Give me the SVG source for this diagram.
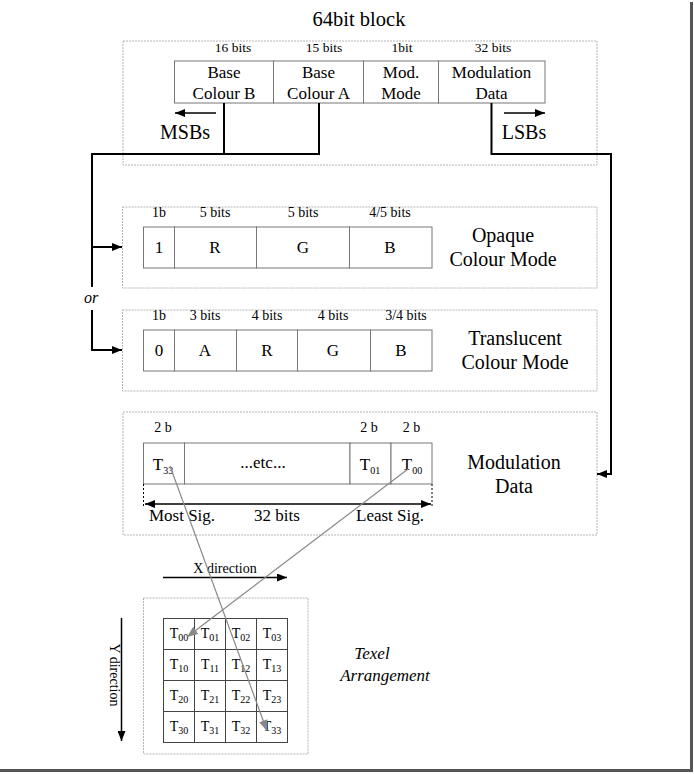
<svg xmlns="http://www.w3.org/2000/svg" width="694" height="774" viewBox="0 0 694 774">
<style>
text{font-family:"Liberation Serif","Times New Roman",serif;fill:#000;text-anchor:middle}
.grp{fill:none;stroke:#b4b4b4;stroke-width:1;stroke-dasharray:2 1}
.fld{fill:#fff;stroke:#777;stroke-width:1}
.conn{fill:none;stroke:#000;stroke-width:2}
.thin{fill:none;stroke:#000;stroke-width:1.5}
.gray{fill:none;stroke:#888;stroke-width:1.2}
.hdr{font-size:14px}
.big{font-size:20px}
.cell{font-size:17px}
.sub{font-size:10px}
.it{font-style:italic}
</style>
<defs>
<marker id="ah" viewBox="0 0 10 8" refX="10" refY="4" markerWidth="11" markerHeight="8" markerUnits="userSpaceOnUse" orient="auto-start-reverse">
<path d="M0,0 L10,4 L0,8 z" fill="#000"/>
</marker>
<marker id="ahg" viewBox="0 0 10 8" refX="10" refY="4" markerWidth="11" markerHeight="9" markerUnits="userSpaceOnUse" orient="auto">
<path d="M0,0 L10,4 L0,8 z" fill="#888"/>
</marker>
</defs>

<!-- page edge shadow -->
<g id="page">
<line x1="691.5" y1="2" x2="691.5" y2="771" stroke="#555" stroke-width="3"/>
<line x1="0" y1="770.5" x2="693" y2="770.5" stroke="#555" stroke-width="3"/>
</g>

<g id="block64">
<rect class="grp" x="123" y="41" width="474" height="124"/>
<text x="359" y="26" font-size="20.5">64bit block</text>
<text x="233" y="52" font-size="13.5">16 bits</text>
<text x="324" y="52" font-size="13.5">15 bits</text>
<text x="402" y="52" font-size="13.5">1bit</text>
<text x="493" y="52" font-size="13.5">32 bits</text>
<rect class="fld" x="174.5" y="61" width="99" height="42"/>
<rect class="fld" x="273.5" y="61" width="90" height="42"/>
<rect class="fld" x="363.5" y="61" width="75" height="42"/>
<rect class="fld" x="438.5" y="61" width="106.5" height="42"/>
<text class="cell" x="224" y="78">Base</text>
<text class="cell" x="224" y="99">Colour B</text>
<text class="cell" x="318.5" y="78">Base</text>
<text class="cell" x="318.5" y="99">Colour A</text>
<text class="cell" x="401" y="78">Mod.</text>
<text class="cell" x="401" y="99">Mode</text>
<text class="cell" x="491.5" y="78">Modulation</text>
<text class="cell" x="491.5" y="99">Data</text>
<line class="thin" x1="216" y1="113" x2="175" y2="113" marker-end="url(#ah)"/>
<line class="thin" x1="504" y1="113" x2="545" y2="113" marker-end="url(#ah)"/>
<text class="big" x="185" y="139">MSBs</text>
<text class="big" x="524" y="139">LSBs</text>
</g>

<g id="opaque">
<rect class="grp" x="122.5" y="207" width="474.5" height="81"/>
<text class="hdr" x="159" y="217">1b</text>
<text class="hdr" x="215" y="217">5 bits</text>
<text class="hdr" x="303" y="217">5 bits</text>
<text class="hdr" x="390" y="217">4/5 bits</text>
<rect class="fld" x="143.5" y="227" width="31" height="41"/>
<rect class="fld" x="174.5" y="227" width="82" height="41"/>
<rect class="fld" x="256.5" y="227" width="93" height="41"/>
<rect class="fld" x="349.5" y="227" width="82.5" height="41"/>
<text class="cell" x="159" y="253">1</text>
<text class="cell" x="215" y="253">R</text>
<text class="cell" x="303" y="253">G</text>
<text class="cell" x="390" y="253">B</text>
<text class="big" x="503" y="242">Opaque</text>
<text class="big" x="503" y="266">Colour Mode</text>
</g>

<g id="translucent">
<rect class="grp" x="122.5" y="310" width="474.5" height="81"/>
<text class="hdr" x="159" y="320">1b</text>
<text class="hdr" x="205" y="320">3 bits</text>
<text class="hdr" x="267" y="320">4 bits</text>
<text class="hdr" x="333" y="320">4 bits</text>
<text class="hdr" x="406" y="320">3/4 bits</text>
<rect class="fld" x="143.5" y="330" width="31" height="41"/>
<rect class="fld" x="174.5" y="330" width="62" height="41"/>
<rect class="fld" x="236.5" y="330" width="61" height="41"/>
<rect class="fld" x="297.5" y="330" width="73" height="41"/>
<rect class="fld" x="370.5" y="330" width="61.5" height="41"/>
<text class="cell" x="159" y="356">0</text>
<text class="cell" x="205" y="356">A</text>
<text class="cell" x="267" y="356">R</text>
<text class="cell" x="333" y="356">G</text>
<text class="cell" x="401" y="356">B</text>
<text class="big" x="515" y="345">Translucent</text>
<text class="big" x="515" y="369">Colour Mode</text>
</g>

<g id="modulation">
<rect class="grp" x="123" y="412" width="474" height="123"/>
<text class="hdr" x="163" y="432">2 b</text>
<text class="hdr" x="369" y="432">2 b</text>
<text class="hdr" x="411.5" y="432">2 b</text>
<rect class="fld" x="143.5" y="443" width="41" height="41"/>
<rect class="fld" x="184.5" y="443" width="165.5" height="41"/>
<rect class="fld" x="350" y="443" width="41" height="41"/>
<rect class="fld" x="391" y="443" width="41" height="41"/>
<text class="cell" x="163" y="470">T<tspan class="sub" dy="4">33</tspan></text>
<text class="cell" x="263" y="468">...etc...</text>
<text class="cell" x="370" y="470">T<tspan class="sub" dy="4">01</tspan></text>
<text class="cell" x="412" y="470">T<tspan class="sub" dy="4">00</tspan></text>
<line x1="143.5" y1="484" x2="143.5" y2="507" stroke="#000" stroke-width="1" stroke-dasharray="2 2"/>
<line x1="432" y1="484" x2="432" y2="507" stroke="#000" stroke-width="1" stroke-dasharray="2 2"/>
<line class="thin" x1="145" y1="504" x2="431" y2="504" marker-start="url(#ah)" marker-end="url(#ah)"/>
<text class="cell" x="182" y="521">Most Sig.</text>
<text class="cell" x="277" y="521">32 bits</text>
<text class="cell" x="390" y="521">Least Sig.</text>
<text class="big" x="514" y="469">Modulation</text>
<text class="big" x="514" y="493">Data</text>
</g>

<g id="texel">
<rect class="grp" x="143.5" y="598" width="164.5" height="156"/>
<g stroke="#444" stroke-width="1" fill="none">
<rect x="163.5" y="618.5" width="124" height="124"/>
<line x1="194.5" y1="618.5" x2="194.5" y2="742.5"/>
<line x1="225.5" y1="618.5" x2="225.5" y2="742.5"/>
<line x1="256.5" y1="618.5" x2="256.5" y2="742.5"/>
<line x1="163.5" y1="649.5" x2="287.5" y2="649.5"/>
<line x1="163.5" y1="680.5" x2="287.5" y2="680.5"/>
<line x1="163.5" y1="711.5" x2="287.5" y2="711.5"/>
</g>
<g font-size="14">
<text x="179" y="638">T<tspan class="sub" dy="3">00</tspan></text>
<text x="210" y="638">T<tspan class="sub" dy="3">01</tspan></text>
<text x="241" y="638">T<tspan class="sub" dy="3">02</tspan></text>
<text x="272" y="638">T<tspan class="sub" dy="3">03</tspan></text>
<text x="179" y="669">T<tspan class="sub" dy="3">10</tspan></text>
<text x="210" y="669">T<tspan class="sub" dy="3">11</tspan></text>
<text x="241" y="669">T<tspan class="sub" dy="3">12</tspan></text>
<text x="272" y="669">T<tspan class="sub" dy="3">13</tspan></text>
<text x="179" y="700">T<tspan class="sub" dy="3">20</tspan></text>
<text x="210" y="700">T<tspan class="sub" dy="3">21</tspan></text>
<text x="241" y="700">T<tspan class="sub" dy="3">22</tspan></text>
<text x="272" y="700">T<tspan class="sub" dy="3">23</tspan></text>
<text x="179" y="731">T<tspan class="sub" dy="3">30</tspan></text>
<text x="210" y="731">T<tspan class="sub" dy="3">31</tspan></text>
<text x="241" y="731">T<tspan class="sub" dy="3">32</tspan></text>
<text x="272" y="731">T<tspan class="sub" dy="3">33</tspan></text>
</g>
<text class="it" font-size="17" x="372" y="659">Texel</text>
<text class="it" font-size="17" x="385" y="681">Arrangement</text>
<line class="thin" x1="163" y1="577.5" x2="287" y2="577.5" marker-end="url(#ah)"/>
<text x="225" y="573" font-size="14">X direction</text>
<line class="thin" x1="121.5" y1="618" x2="121.5" y2="741" marker-end="url(#ah)"/>
<text x="0" y="0" font-size="14" transform="translate(110 675) rotate(90)">Y direction</text>
</g>

<g id="connectors">
<polyline class="conn" points="224,103 224,154"/>
<polyline class="conn" points="319,103 319,154 92,154 92,287"/>
<line class="conn" x1="92" y1="310" x2="92" y2="350"/>
<line class="conn" x1="91" y1="247" x2="122" y2="247" marker-end="url(#ah)"/>
<line class="conn" x1="91" y1="350" x2="122" y2="350" marker-end="url(#ah)"/>
<text class="it" font-size="16" x="91" y="303">or</text>
<polyline class="conn" points="491.5,103 491.5,154 611,154 611,474 597,474" marker-end="url(#ah)"/>
<line class="gray" x1="170" y1="466" x2="267" y2="731" marker-end="url(#ahg)"/>
<line class="gray" x1="408" y1="469" x2="187" y2="637" marker-end="url(#ahg)"/>
</g>
</svg>
